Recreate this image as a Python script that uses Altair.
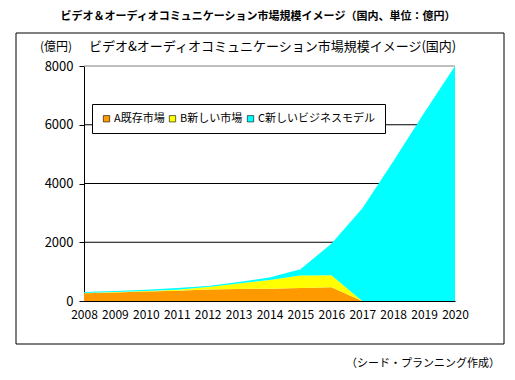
import altair as alt
import pandas as pd

FONT = "Noto Sans CJK JP"

years = list(range(2008, 2021))
series_names = ["A既存市場", "B新しい市場", "C新しいビジネスモデル"]
series_colors = ["#FF9900", "#FFFF00", "#00FFFF"]
a_existing = [260, 290, 320, 350, 390, 410, 420, 440, 470, 0, 0, 0, 0]
b_new = [15, 15, 20, 30, 90, 190, 295, 430, 410, 0, 0, 0, 0]
c_model = [35, 35, 40, 60, 30, 50, 85, 210, 1070, 3150, 4750, 6400, 8000]
y_ticks = [0, 2000, 4000, 6000, 8000]
grid_values = [2000, 4000, 6000]
top_value = [8000]

main_title = "ビデオ＆オーディオコミュニケーション市場規模イメージ（国内、単位：億円）"
sub_title = "ビデオ&オーディオコミュニケーション市場規模イメージ(国内)"
unit_label = "(億円)"
source_label = "（シード・プランニング作成）"

rows = []
for i, y in enumerate(years):
    for k, (name, vals) in enumerate(zip(series_names, [a_existing, b_new, c_model])):
        rows.append({"year": y, "series": name, "value": vals[i], "order": k})
df = pd.DataFrame(rows)

y_scale = alt.Scale(domain=[0, 8000], nice=False)

x_enc = alt.X(
    "year:Q",
    scale=alt.Scale(domain=[2008, 2020], nice=False, zero=False),
    axis=alt.Axis(
        values=years, format="d", title=None, grid=False, ticks=False,
        domainColor="black", labelFont=FONT, labelFontSize=12, labelColor="black",
        labelPadding=8, labelFlush=False,
    ),
)

area = alt.Chart(df).mark_area(opacity=1).encode(
    x=x_enc,
    y=alt.Y(
        "value:Q",
        stack="zero",
        scale=y_scale,
        axis=alt.Axis(
            values=y_ticks, format="d", title=None, grid=False, tickSize=5,
            tickColor="black", domainColor="black", labelFont=FONT, labelFontSize=13,
            labelColor="black", labelPadding=6,
        ),
    ),
    color=alt.Color(
        "series:N",
        scale=alt.Scale(domain=series_names, range=series_colors),
        sort=series_names,
        legend=alt.Legend(
            title=None, orient="none", legendX=8, legendY=38, direction="horizontal",
            symbolType="square", symbolSize=40, symbolStrokeColor="black",
            symbolStrokeWidth=0.6, labelFont=FONT, labelFontSize=11, labelColor="black",
            strokeColor="black", fillColor="white", padding=9, columnPadding=2,
            labelOffset=2,
        ),
    ),
    order=alt.Order("order:Q"),
)

grid = alt.Chart(pd.DataFrame({"v": grid_values})).mark_rule(
    strokeWidth=1, color="black"
).encode(y=alt.Y("v:Q", scale=y_scale))

top_line = alt.Chart(pd.DataFrame({"v": top_value})).mark_rule(
    strokeWidth=1, color="#808080"
).encode(y=alt.Y("v:Q", scale=y_scale))

one = pd.DataFrame({"d": [0]})
frame = alt.Chart(one).mark_rect(fill=None, stroke="black", strokeWidth=1).encode(
    x=alt.value(-68), x2=alt.value(420), y=alt.value(-33), y2=alt.value(278)
)

def text_layer(t, x, y, align, size, weight="normal"):
    return alt.Chart(pd.DataFrame({"t": [t]})).mark_text(
        align=align, baseline="alphabetic", font=FONT, fontSize=size,
        fontWeight=weight, color="black",
    ).encode(text="t:N", x=alt.value(x), y=alt.value(y))

chart = alt.layer(
    frame,
    grid,
    top_line,
    area,
    text_layer(main_title, 174, -46, "center", 11, "bold"),
    text_layer(sub_title, 5, -15, "left", 13),
    text_layer(unit_label, -12, -15, "right", 12),
    text_layer(source_label, 416, 301, "right", 11),
).properties(
    width=371, height=235,
    autosize=alt.AutoSizeParams(type="none"),
    padding={"left": 76, "top": 58, "right": 51, "bottom": 69},
).configure_view(stroke=None)

chart.save("out.html", embed_options={"renderer": "svg", "actions": False})
